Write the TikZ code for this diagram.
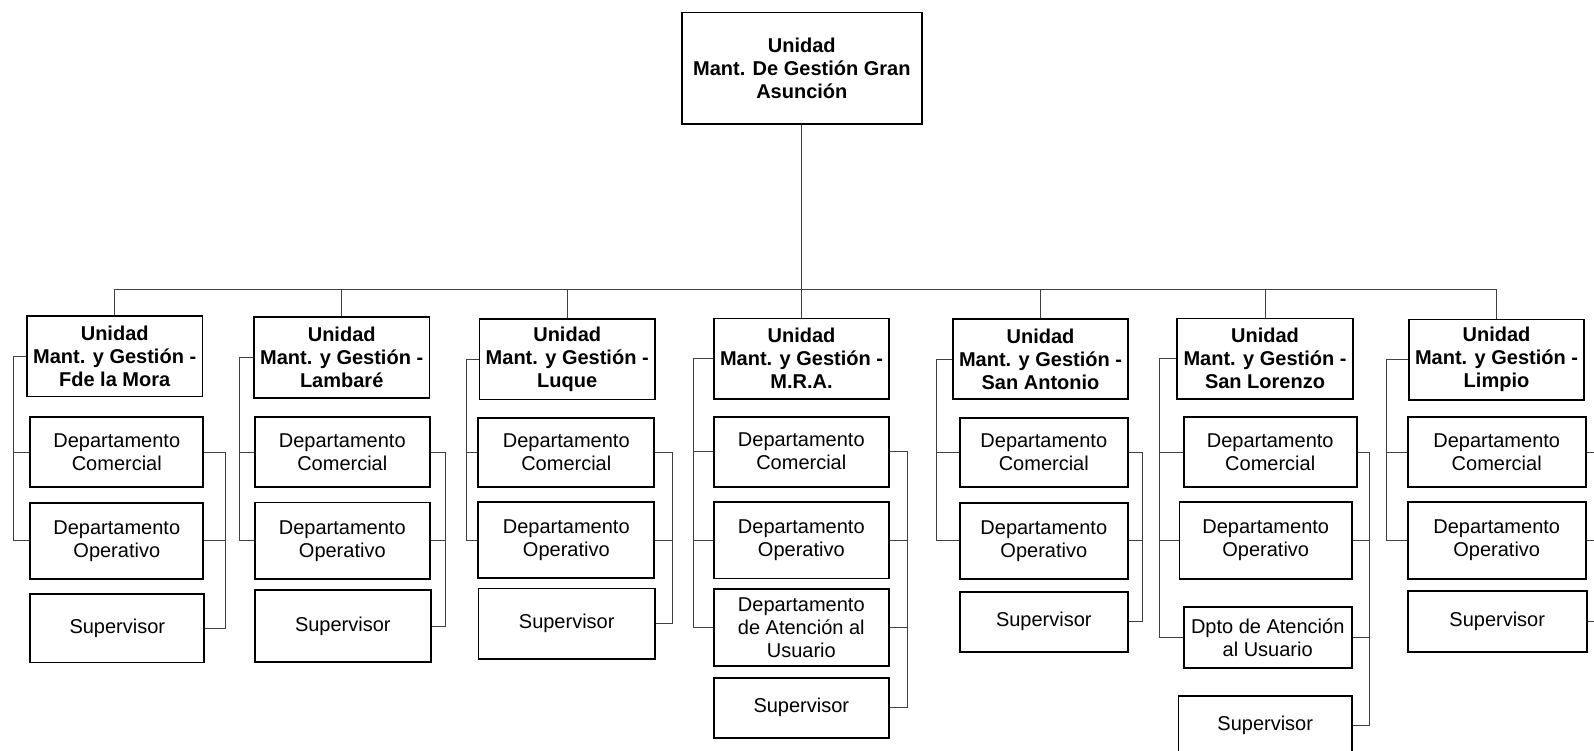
\documentclass[tikz,border=0pt]{standalone}
\usepackage{fontspec}
\setmainfont{Liberation Sans}
\usetikzlibrary{positioning,calc}

\begin{document}
\begin{tikzpicture}[x=1pt,y=-1pt,
    unidad/.style={draw,line width=1.7pt,rectangle,align=center,inner sep=0pt,
      font=\fontsize{20}{23}\selectfont\bfseries,minimum width=175.6pt,minimum height=80.6pt},
    dpto/.style={draw,line width=1.7pt,rectangle,align=center,inner sep=0pt,
      font=\fontsize{20}{23}\selectfont,minimum width=175.3pt,minimum height=70pt},
    enlace/.style={draw=black!75,line width=1pt}]
%
   \useasboundingbox (0,0) rectangle (1594,751);
   \clip (0,0) rectangle (1594,751);
%
   \node[unidad,minimum width=240.3pt,minimum height=111.3pt] (GA) at (801.8,68.3) {Unidad\\Mant. De Gestión Gran\\Asunción};
%
   \node[unidad]  (U1) at (114.7,356.2) {Unidad\\Mant. y Gestión -\\Fde la Mora};
   \node[dpto,minimum width=173pt]                       (C1) at (116.8,452.3) {Departamento\\Comercial};
   \node[dpto,minimum width=173pt,minimum height=76.3pt] (O1) at (116.8,540.8) {Departamento\\Operativo};
   \node[dpto,minimum width=174pt,minimum height=68.3pt] (S1) at (117.3,628.2) {Supervisor};
%
   \node[unidad]  (U2) at (341.7,357.5) {Unidad\\Mant. y Gestión -\\Lambaré};
   \node[dpto]                                             (C2) at (342.3,452.3) {Departamento\\Comercial};
   \node[dpto,minimum height=76.7pt]                       (O2) at (342.3,540.7) {Departamento\\Operativo};
   \node[dpto,minimum width=176.3pt,minimum height=72pt]   (S2) at (342.8,626.3) {Supervisor};
%
   \node[unidad]  (U3) at (567.2,359.2) {Unidad\\Mant. y Gestión -\\Luque};
   \node[dpto,minimum width=176pt,minimum height=69.6pt]   (C3) at (566.3,452.5) {Departamento\\Comercial};
   \node[dpto,minimum width=176pt,minimum height=75.4pt]   (O3) at (566.3,540) {Departamento\\Operativo};
   \node[dpto,minimum width=176.7pt,minimum height=70.7pt] (S3) at (566.7,623.7) {Supervisor};
%
   \node[unidad]  (U4) at (801.5,358.7) {Unidad\\Mant. y Gestión -\\M.R.A.};
   \node[dpto]                                             (C4) at (801.3,451.7) {Departamento\\Comercial};
   \node[dpto,minimum height=76.3pt]                       (O4) at (801.3,540.2) {Departamento\\Operativo};
   \node[dpto,minimum height=76.4pt]                       (A4) at (801.3,627.5) {Departamento\\de Atención al\\Usuario};
   \node[dpto,minimum height=60pt]                         (S4) at (801.3,707.7) {Supervisor};
%
   \node[unidad]  (U5) at (1040.5,359) {Unidad\\Mant. y Gestión -\\San Antonio};
   \node[dpto,minimum width=167.7pt,minimum height=69.6pt] (C5) at (1043.8,452.5) {Departamento\\Comercial};
   \node[dpto,minimum width=167.7pt,minimum height=76.3pt] (O5) at (1043.8,540.8) {Departamento\\Operativo};
   \node[dpto,minimum width=167.7pt,minimum height=60pt]   (S5) at (1043.8,621.7) {Supervisor};
%
   \node[unidad]  (U6) at (1265,358.7) {Unidad\\Mant. y Gestión -\\San Lorenzo};
   \node[dpto,minimum width=173pt]                         (C6) at (1270.2,452.3) {Departamento\\Comercial};
   \node[dpto,minimum width=172.7pt,minimum height=76.7pt] (O6) at (1265.7,540.3) {Departamento\\Operativo};
   \node[dpto,minimum width=168pt,minimum height=60.7pt]   (A6) at (1267.7,637.3) {Dpto de Atención\\al Usuario};
   \node[dpto,minimum width=173.7pt,minimum height=59pt]   (S6) at (1265.2,725.5) {Supervisor};
%
   \node[unidad]  (U7) at (1496.5,359.7) {Unidad\\Mant. y Gestión -\\Limpio};
   \node[dpto,minimum width=178pt]                         (C7) at (1496.7,452.3) {Departamento\\Comercial};
   \node[dpto,minimum width=178pt,minimum height=76.7pt]   (O7) at (1496.7,540.3) {Departamento\\Operativo};
   \node[dpto,minimum width=179pt,minimum height=60.7pt]   (S7) at (1497.2,621.3) {Supervisor};
%
   \coordinate (bus) at (0,289.3);
   \draw[enlace] (GA.south) -- (GA.south |- bus);
   \draw[enlace] (U1.north |- bus) -- (U7.north |- bus);
   \foreach \u in {U1,U2,U3,U4,U5,U6,U7}
      \draw[enlace] (\u.north |- bus) -- (\u.north);
%
   \foreach \n/\l/\r in {1/13.3/225.3,2/239.7/445,3/466/672.3,5/936.7/1142.3,7/1386.7/1602}{
      \coordinate (L) at (\l,0);
      \coordinate (R) at (\r,0);
      \draw[enlace] (U\n.west) -| (L |- O\n.west) -- (O\n.west);
      \draw[enlace] (C\n.west) -- (C\n.west -| L);
      \draw[enlace] (C\n.east) -| (R |- S\n.east) -- (S\n.east);
      \draw[enlace] (O\n.east) -- (O\n.east -| R);
   }
   \foreach \n/\l/\r in {4/693.3/907.3,6/1159/1369.3}{
      \coordinate (L) at (\l,0);
      \coordinate (R) at (\r,0);
      \draw[enlace] (U\n.west) -| (L |- A\n.west) -- (A\n.west);
      \draw[enlace] (C\n.west) -- (C\n.west -| L);
      \draw[enlace] (O\n.west) -- (O\n.west -| L);
      \draw[enlace] (C\n.east) -| (R |- S\n.east) -- (S\n.east);
      \draw[enlace] (O\n.east) -- (O\n.east -| R);
      \draw[enlace] (A\n.east) -- (A\n.east -| R);
   }
\end{tikzpicture}
\end{document}
